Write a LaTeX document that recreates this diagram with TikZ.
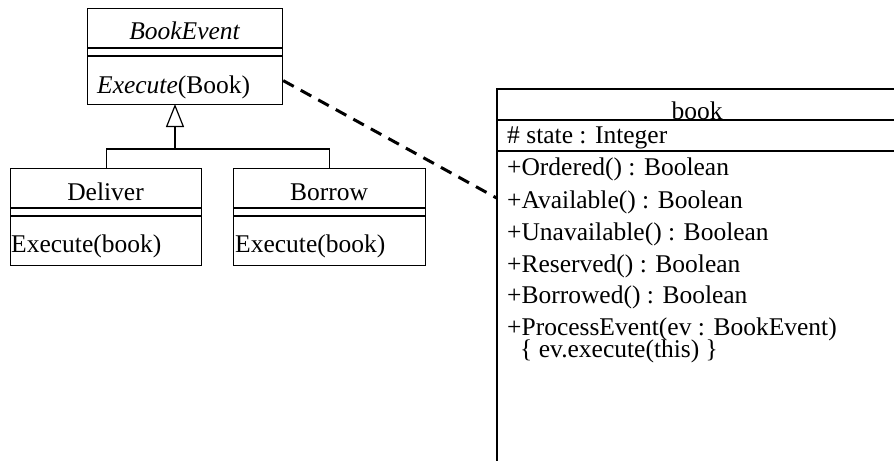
\documentclass[tikz,border=0pt]{standalone}
\usepackage{fontspec}
\setmainfont{Liberation Serif}
\usetikzlibrary{arrows.meta}
\tikzset{
  umlbox/.style={draw, line width=1.2pt, inner sep=0pt, anchor=north west},
  sep/.style={line width=2pt},
  thin/.style={line width=1.2pt},
  txt/.style={inner sep=0pt, anchor=base, font=\fontsize{25.5}{30}\selectfont},
  ltxt/.style={inner sep=0pt, anchor=base west, font=\fontsize{25.5}{30}\selectfont},
  dep/.style={line width=3pt, dash pattern=on 12pt off 8pt},
  gen/.style={line width=1.2pt, -{Triangle[open, width=18pt, length=23pt, line width=1.2pt]}}
}
\begin{document}
\begin{tikzpicture}[x=1pt, y=-1pt]
\useasboundingbox (0,0) rectangle (894,461);
% BookEvent
\node[umlbox, minimum width=195pt, minimum height=96pt] (bookevent) at (87,8) {};
\draw[sep] (87,48) -- (282,48);
\draw[sep] (87,56) -- (282,56);
\node[txt] (benm) at (184.5,39) {\itshape BookEvent};
\node[ltxt] (beop) at (97,93) {\itshape Execute\upshape(Book)};
% Deliver
\node[umlbox, minimum width=191pt, minimum height=97pt] (deliver) at (10,168) {};
\draw[sep] (10,208) -- (201,208);
\draw[sep] (10,216) -- (201,216);
\node[txt] (dlnm) at (105.5,200) {Deliver};
\node[ltxt] (dlop) at (11,252) {Execute(book)};
% Borrow
\node[umlbox, minimum width=192pt, minimum height=97pt] (borrow) at (233,168) {};
\draw[sep] (233,208) -- (425,208);
\draw[sep] (233,216) -- (425,216);
\node[txt] (brnm) at (329,200) {Borrow};
\node[ltxt] (brop) at (235,252) {Execute(book)};
% generalization
\coordinate (join) at (175,149);
\draw[thin] (deliver.north) |- (join) -| (borrow.north);
\draw[gen] (join) -- (175,104);
% book
\node[inner sep=0pt, minimum width=400pt, minimum height=372pt, anchor=north west] (book) at (497,89) {};
\draw[thin] (894,89) -- (497,89) -- (497,461);
\draw[thin] (497,120) -- (894,120);
\draw[thin] (497,151) -- (894,151);
\node[txt] (bknm) at (697,119) {book};
\node[ltxt] (a1) at (507,143) {\# state : Integer};
\node[ltxt] (m1) at (507,175) {+Ordered() : Boolean};
\node[ltxt] (m2) at (507,208) {+Available() : Boolean};
\node[ltxt] (m3) at (507,240) {+Unavailable() : Boolean};
\node[ltxt] (m4) at (507,272) {+Reserved() : Boolean};
\node[ltxt] (m5) at (507,303) {+Borrowed() : Boolean};
\node[ltxt] (m6) at (507,335) {+ProcessEvent(ev : BookEvent)};
\node[ltxt] (m7) at (520,357) {\{ ev.execute(this) \}};
% dependency
\draw[dep] ([yshift=-24pt]bookevent.east) -- ([yshift=77pt]book.west);
\end{tikzpicture}
\end{document}
